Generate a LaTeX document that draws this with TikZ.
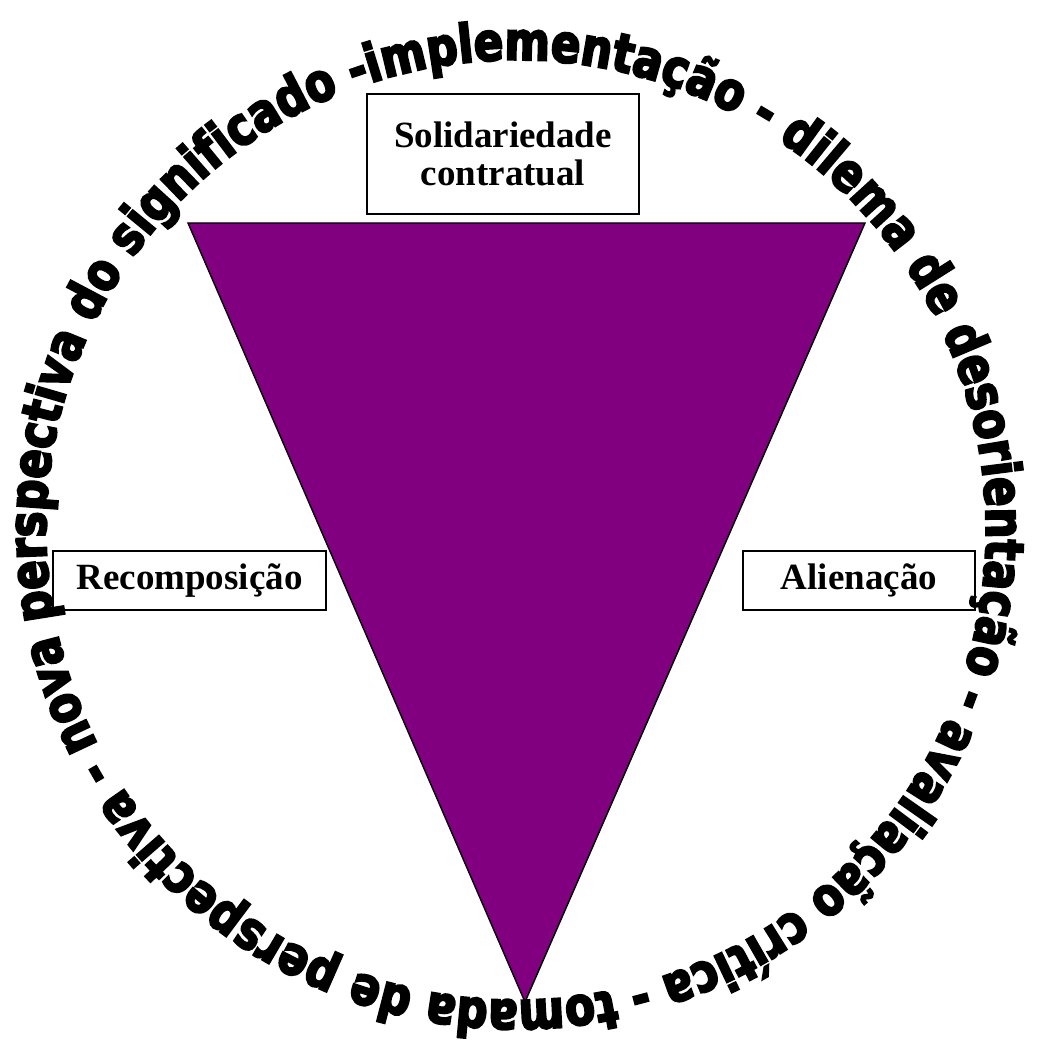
\documentclass[tikz,border=0pt]{standalone}
\usepackage{fontspec}
\setmainfont{Liberation Serif}
\newfontfamily\ringfont{DejaVu Sans}[FakeStretch=0.82, UprightFeatures={FakeBold=4}, BoldFeatures={FakeBold=4}]
\usetikzlibrary{decorations.text}
\definecolor{tripurple}{HTML}{800080}
\tikzset{
  labelbox/.style={draw=black, line width=1.4pt, fill=white, inner sep=0pt, align=center,
    font=\bfseries\fontsize{37}{38}\selectfont},
  tri/.style={fill=tripurple, draw=black, line width=1.4pt, line join=miter}
}
\begin{document}
\begin{tikzpicture}[x=1pt, y=1pt]
\useasboundingbox (0,0) rectangle (1041,1043);
\fill[white] (0,0) rectangle (1041,1043);
% triangle
\coordinate (tl) at (188,820);
\coordinate (tr) at (865,820);
\coordinate (tb) at (525,41);
\draw[tri] (tl) -- (tr) -- (tb) -- cycle;
% boxes
\node[labelbox, minimum width=272pt, minimum height=120pt] (sol) at (503,889) {Solidariedade\\contratual};
\node[labelbox, minimum width=273pt, minimum height=59pt] (rec) at (189.5,462.5) {Recomposição};
\node[labelbox, minimum width=232pt, minimum height=59pt] (ali) at (859,462.5) {Alienação};
% circular text
\coordinate (c) at (516,513);
\path[decorate, decoration={text along path,
  text={|\ringfont\bfseries\fontsize{53}{53}\selectfont|implementação - dilema de desorientação - avaliação crítica - tomada de perspectiva - nova perspectiva do significado -},
  text align={fit to path}}]
  (c) ++(108:470) arc[start angle=108, end angle=-252, radius=470];
\end{tikzpicture}
\end{document}
